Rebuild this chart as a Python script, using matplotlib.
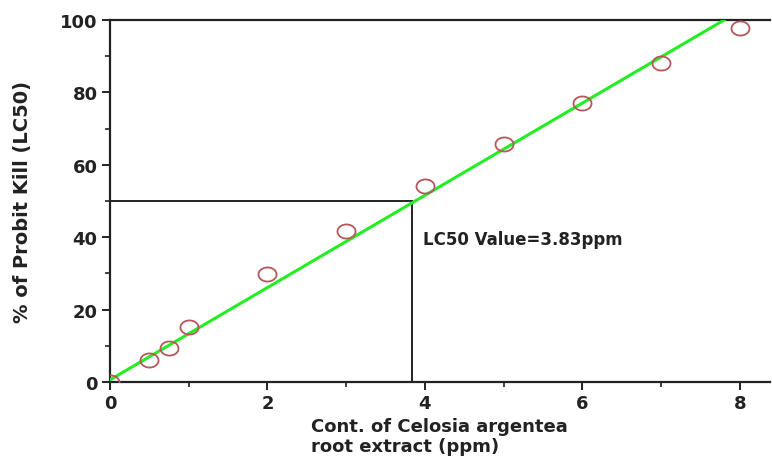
import numpy as np
import matplotlib.pyplot as plt
from matplotlib.path import Path

plt.rcParams["font.family"] = ["DejaVu Sans"]
plt.rcParams["font.weight"] = "bold"

# observed probit kill (%) vs concentration (ppm)
conc = [0, 0.5, 0.75, 1, 2, 3, 4, 5, 6, 7, 8]
kill = [0, 6.2, 9.3, 15.2, 29.8, 41.7, 54.1, 65.7, 77.1, 88.0, 97.9]

# fitted line
fit_x = [0, 7.8]
fit_y = [0.6, 100]

lc50 = 3.83
lc50_kill = 50

# slightly wide ellipse marker (source image is stretched)
t = np.linspace(0, 2 * np.pi, 60)
ell = Path(np.column_stack([np.cos(t), 0.78 * np.sin(t)]), closed=True)

fig = plt.figure(figsize=(7.72, 4.64), dpi=100)
ax = fig.add_axes([0.1425, 0.1746, 0.8545, 0.78])

ax.plot([0, lc50], [lc50_kill, lc50_kill], color="#222222", lw=1.4)
ax.plot([lc50, lc50], [0, lc50_kill], color="#222222", lw=1.4)
ax.plot(fit_x, fit_y, color="#22ee22", lw=2.2, zorder=3)
ax.plot(conc, kill, ls="none", marker=ell, ms=13, mfc="none",
        mec="#b5575a", mew=1.3, zorder=4)

ax.text(3.98, 39.5, "LC50 Value=3.83ppm", fontsize=12, fontweight="bold",
        va="center", ha="left", color="#222222")

ax.set_xlim(0, 8.38)
ax.set_ylim(0, 100)
ax.set_xticks([0, 2, 4, 6, 8])
ax.set_xticks([1, 3, 5, 7], minor=True)
ax.set_yticks([0, 20, 40, 60, 80, 100])
ax.set_yticks([10, 30, 50, 70, 90], minor=True)
ax.tick_params(which="major", direction="out", length=6, width=1.4,
               labelsize=13, colors="#222222", pad=3)
ax.tick_params(which="minor", direction="out", length=3.5, width=1.2,
               colors="#222222")
for lab in ax.get_xticklabels() + ax.get_yticklabels():
    lab.set_fontweight("bold")

ax.spines["right"].set_visible(False)
for s in ["left", "bottom", "top"]:
    ax.spines[s].set_linewidth(1.6)
    ax.spines[s].set_color("#222222")

ax.set_xlabel("Cont. of Celosia argentea\nroot extract (ppm)", fontsize=13,
              fontweight="bold", multialignment="left", labelpad=3,
              linespacing=1.15, color="#222222")
ax.set_ylabel("% of Probit Kill (LC50)", fontsize=14, fontweight="bold",
              labelpad=20, color="#222222")

fig.savefig("out.png", dpi=100)
